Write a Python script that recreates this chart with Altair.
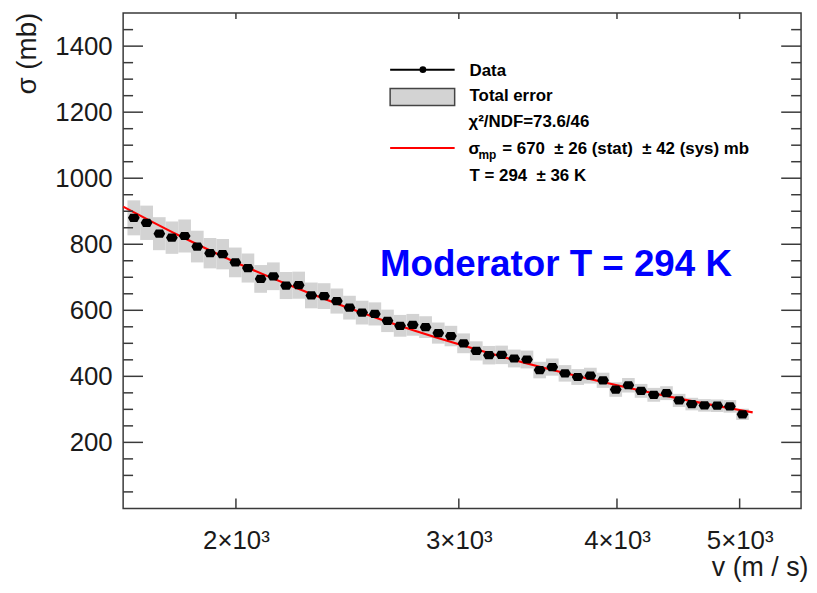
import altair as alt
import numpy as np
import pandas as pd

# ---- data ----
velocity = [1661, 1700, 1740, 1780, 1822, 1864, 1908, 1952, 1998, 2044, 2092, 2141,
            2191, 2242, 2294, 2348, 2403, 2459, 2516, 2575, 2635, 2696, 2759, 2824,
            2890, 2957, 3026, 3097, 3169, 3243, 3318, 3396, 3475, 3556, 3639, 3724,
            3811, 3900, 3991, 4084, 4179, 4277, 4377, 4479, 4583, 4690, 4800, 4912, 5026]
sigma = [880, 865, 832, 820, 825, 793, 773, 770, 745, 728, 695, 703, 675, 676, 645,
         643, 628, 608, 593, 589, 568, 553, 556, 549, 531, 522, 500, 477, 464, 465,
         454, 451, 419, 428, 409, 398, 402, 388, 360, 373, 356, 344, 349, 327, 316,
         312, 311, 309, 285]
total_err = [53, 52, 50, 49, 50, 48, 46, 46, 45, 44, 42, 42, 41, 41, 39, 39, 38, 36,
             36, 35, 34, 33, 33, 33, 32, 31, 30, 29, 28, 28, 27, 27, 25, 26, 25, 24,
             24, 23, 22, 22, 21, 21, 21, 20, 19, 19, 19, 19, 17]
fit_v = [1629, 1800, 2000, 2300, 2600, 3000, 3500, 4000, 4500, 5000, 5120]
fit_sigma = [914, 828, 745, 648, 573, 497, 426, 373, 331, 298, 291]

x_tick_values = [2000, 3000, 4000, 5000]
y_label_values = [200, 400, 600, 800, 1000, 1200, 1400]
y_minor_values = [50, 100, 150, 250, 300, 350, 450, 500, 550, 650, 700, 750, 850,
                  900, 950, 1050, 1100, 1150, 1250, 1300, 1350, 1450]

# ---- tables ----
df = pd.DataFrame({"v": velocity, "sigma": sigma, "err": total_err})
lv = np.log(df["v"].values)
mids = np.exp((lv[:-1] + lv[1:]) / 2)
df["lo"] = np.concatenate([[df["v"].iloc[0] ** 2 / mids[0]], mids])
df["hi"] = np.concatenate([mids, [df["v"].iloc[-1] ** 2 / mids[-1]]])
df["ylo"] = df["sigma"] - df["err"]
df["yhi"] = df["sigma"] + df["err"]
fit = pd.DataFrame({"v": fit_v, "sigma": fit_sigma})
dummy = pd.DataFrame({"a": [0]})

W, H = 683, 499
FRAME = "#3a3a3a"
FONT = "Liberation Sans"
NB = "\u00a0"

xs = alt.Scale(type="log", domain=[1629, 5591], nice=False)
ys = alt.Scale(domain=[0, 1500], nice=False, zero=False)

x_axis = alt.Axis(values=x_tick_values, labelExpr="format(datum.value/1000,'d') + '×10³'",
                  ticks=False, domain=False, grid=False, labelPadding=19,
                  labelFontSize=26, labelOverlap=False, labelFlush=False,
                  title="v (m / s)", titleAnchor="end", titleAlign="right",
                  titleX=690, titleY=68, titleBaseline="alphabetic", titleFontSize=27)
y_axis = alt.Axis(values=y_label_values, format="d", ticks=False, domain=False, grid=False,
                  labelPadding=11, labelFontSize=26, labelOverlap=False,
                  title="σ (mb)", titleAngle=270, titleAlign="right", titleAnchor="end",
                  titleX=-88, titleY=-1, titleBaseline="alphabetic", titleFontSize=28)

boxes = alt.Chart(df).mark_rect(color="#d3d3d3").encode(
    x=alt.X("lo:Q", scale=xs, axis=x_axis), x2="hi:Q",
    y=alt.Y("ylo:Q", scale=ys, axis=y_axis), y2="yhi:Q")

blob = "M-1,0 L-0.6,-0.7 L0.6,-0.7 L1,0 L0.6,0.7 L-0.6,0.7 Z"
points = alt.Chart(df).mark_point(shape=blob, filled=True, color="black",
                                  opacity=1, size=140).encode(
    x=alt.X("v:Q", scale=xs), y=alt.Y("sigma:Q", scale=ys))

fit_line = alt.Chart(fit).mark_line(color="#ff0000", strokeWidth=2.2,
                                     interpolate="monotone").encode(
    x=alt.X("v:Q", scale=xs), y=alt.Y("sigma:Q", scale=ys))

def yticks(vals, length):
    d = pd.DataFrame({"y": vals})
    left = alt.Chart(d).mark_rule(color=FRAME, strokeWidth=1.5).encode(
        y=alt.Y("y:Q", scale=ys), x=alt.value(0), x2=alt.value(length))
    right = alt.Chart(d).mark_rule(color=FRAME, strokeWidth=1.5).encode(
        y=alt.Y("y:Q", scale=ys), x=alt.value(W), x2=alt.value(W - length))
    return [left, right]

xt = pd.DataFrame({"x": x_tick_values})
xticks_bottom = alt.Chart(xt).mark_rule(color=FRAME, strokeWidth=1.5).encode(
    x=alt.X("x:Q", scale=xs), y=alt.value(H), y2=alt.value(H - 10))
xticks_top = alt.Chart(xt).mark_rule(color=FRAME, strokeWidth=1.5).encode(
    x=alt.X("x:Q", scale=xs), y=alt.value(0), y2=alt.value(6))

# ---- legend & annotation ----
def text(s, x, y, size=17, weight="bold", color="black", align="left"):
    return alt.Chart(dummy).mark_text(text=s, font=FONT, fontSize=size, fontWeight=weight,
                                      color=color, align=align, baseline="middle").encode(
        x=alt.value(x), y=alt.value(y))

leg_data_line = alt.Chart(dummy).mark_rule(color="black", strokeWidth=2).encode(
    x=alt.value(269), x2=alt.value(334), y=alt.value(57))
leg_data_dot = alt.Chart(dummy).mark_point(shape="circle", filled=True, color="black",
                                           opacity=1, size=45).encode(
    x=alt.value(302), y=alt.value(57))
leg_box = alt.Chart(dummy).mark_rect(color="#d3d3d3", stroke="#444444", strokeWidth=1.5).encode(
    x=alt.value(269), x2=alt.value(334), y=alt.value(76), y2=alt.value(93))
leg_red = alt.Chart(dummy).mark_rule(color="#ff0000", strokeWidth=2).encode(
    x=alt.value(269), x2=alt.value(334), y=alt.value(136))

legend = [
    leg_data_line, leg_data_dot, leg_box, leg_red,
    text("Data", 349, 58),
    text("Total error", 349, 84),
    text("χ²/NDF=73.6/46", 348, 110),
    text("σ", 348, 137),
    text("mp", 358, 143, size=12),
    text(f"= 670{NB} ±{NB}26 (stat){NB} ±{NB}42 (sys) mb", 382, 137),
    text(f"T = 294{NB} ±{NB}36 K", 349, 164),
    text("Moderator T = 294 K", 436, 254, size=37, color="#0000ff", align="center"),
]

layers = [boxes, fit_line, points] + yticks(y_label_values, 20) + yticks(y_minor_values, 10) \
    + [xticks_bottom, xticks_top] + legend

chart = alt.layer(*layers).properties(
    width=W, height=H,
    autosize=alt.AutoSizeParams(type="none"),
    padding={"left": 116, "top": 3, "right": 8, "bottom": 74},
).configure_view(stroke=FRAME, strokeWidth=1.5).configure_axis(
    labelFont=FONT, titleFont=FONT, labelColor="#1a1a1a", titleColor="#1a1a1a",
    titleFontWeight="normal")

chart.save("out.html", embed_options={"renderer": "svg", "actions": False})
